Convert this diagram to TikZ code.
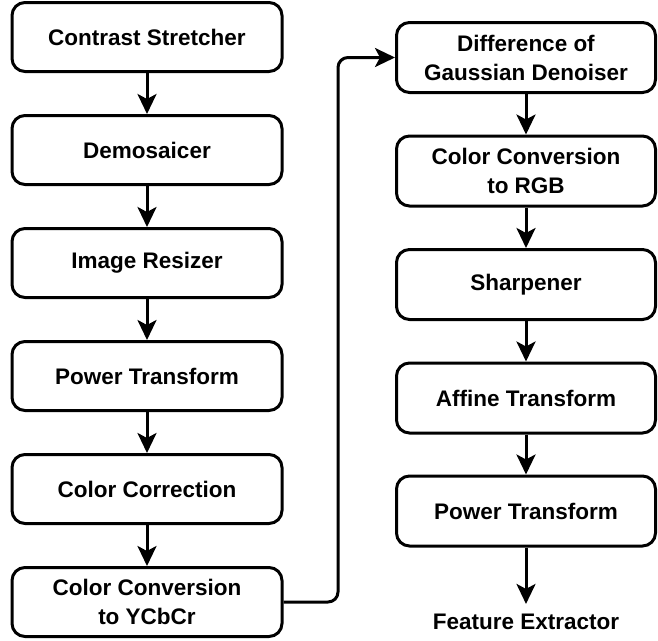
\documentclass[tikz,border=0pt]{standalone}
\usepackage{fontspec}
\setmainfont{Liberation Sans}
\usetikzlibrary{arrows.meta,calc}
\begin{document}
\begin{tikzpicture}[x=1pt,y=-1pt,
  lbl/.style={align=center,font=\fontsize{22.5}{29}\selectfont\bfseries,inner sep=0pt},
  box/.style={lbl,draw,line width=3pt,rounded corners=13pt},
  lbox/.style={box,minimum width=270pt,minimum height=69pt},
  rbox/.style={box,minimum width=259pt,minimum height=70pt},
  arr/.style={line width=3pt,-{Stealth[length=20pt,width=19pt,inset=5pt]}}]
\useasboundingbox (0,0) rectangle (658,640);
\node[lbox] (c1) at (147,37) {Contrast Stretcher};
\node[lbox] (c2) at (147,150) {Demosaicer};
\node[lbox] (c3) at (147,263) {Image Resizer};
\node[lbox] (c4) at (147,376) {Power Transform};
\node[lbox] (c5) at (147,489) {Color Correction};
\node[lbox] (c6) at (147,602) {Color Conversion\\to YCbCr};
\node[rbox] (r1) at (526,57.5) {Difference of\\Gaussian Denoiser};
\node[rbox] (r2) at (526,171) {Color Conversion\\to RGB};
\node[rbox] (r3) at (526,284.5) {Sharpener};
\node[rbox] (r4) at (526,398) {Affine Transform};
\node[rbox] (r5) at (526,511) {Power Transform};
\node[lbl] (fe) at (526,622) {Feature Extractor};
\coordinate (mid) at (338,330);
\draw[arr] (c1) -- (c2);
\draw[arr] (c2) -- (c3);
\draw[arr] (c3) -- (c4);
\draw[arr] (c4) -- (c5);
\draw[arr] (c5) -- (c6);
\draw[arr] (r1) -- (r2);
\draw[arr] (r2) -- (r3);
\draw[arr] (r3) -- (r4);
\draw[arr] (r4) -- (r5);
\draw[arr] (r5.south) -- ($(fe.north)+(0,-10)$);
\draw[arr,rounded corners=10pt] (c6.east) -| (mid) |- (r1.west);
\end{tikzpicture}
\end{document}
